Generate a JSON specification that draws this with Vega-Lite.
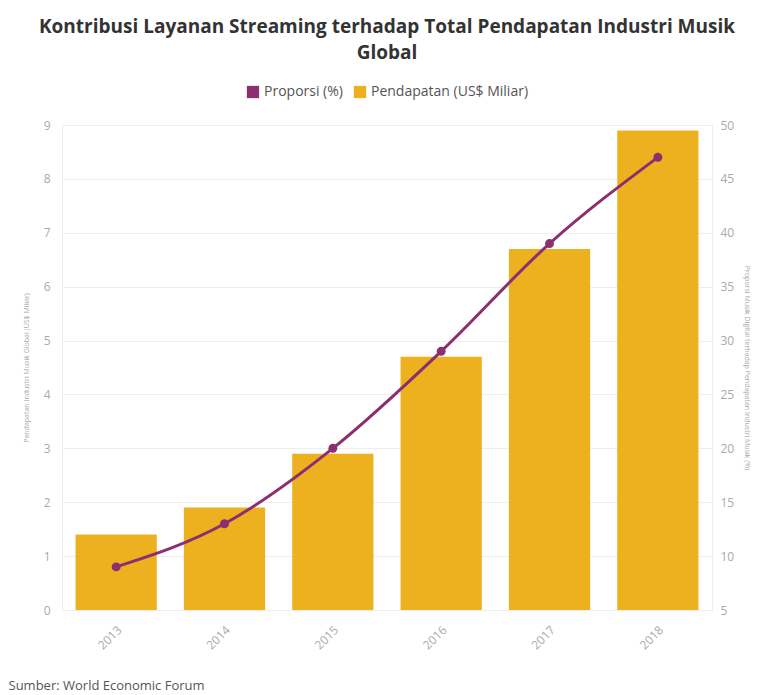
{
  "$schema": "https://vega.github.io/schema/vega-lite/v6.json",
  "width": 650,
  "height": 485,
  "autosize": {"type": "none"},
  "padding": {"left": 62, "top": 125, "right": 55, "bottom": 85},
  "background": "white",
  "title": {
    "text": ["Kontribusi Layanan Streaming terhadap Total Pendapatan Industri Musik", "Global"],
    "anchor": "middle",
    "font": "Open Sans",
    "fontSize": 19,
    "fontWeight": "bold",
    "color": "#333333",
    "lineHeight": 26,
    "offset": 22
  },
  "data": {
    "values": [
      {"tahun": "2013", "pendapatan": 1.4, "proporsi": 9},
      {"tahun": "2014", "pendapatan": 1.9, "proporsi": 13},
      {"tahun": "2015", "pendapatan": 2.9, "proporsi": 20},
      {"tahun": "2016", "pendapatan": 4.7, "proporsi": 29},
      {"tahun": "2017", "pendapatan": 6.7, "proporsi": 39},
      {"tahun": "2018", "pendapatan": 8.9, "proporsi": 47}
    ]
  },
  "encoding": {
    "x": {
      "field": "tahun",
      "type": "nominal",
      "scale": {"paddingInner": 0.25, "paddingOuter": 0.125},
      "axis": {
        "labelAngle": -45,
        "labelColor": "#aaaaaa",
        "labelFontSize": 12,
        "labelFont": "Open Sans",
        "ticks": false,
        "domain": false,
        "labelPadding": 14,
        "title": "Sumber: World Economic Forum",
        "titleAnchor": "start",
        "titleAlign": "left",
        "titleBaseline": "middle",
        "titleX": -54,
        "titleY": 75,
        "titleFont": "Open Sans",
        "titleFontSize": 13,
        "titleFontWeight": "normal",
        "titleColor": "#555555"
      }
    }
  },
  "layer": [
    {
      "mark": {"type": "bar", "color": "#EDB120"},
      "encoding": {
        "y": {
          "field": "pendapatan",
          "type": "quantitative",
          "scale": {"domain": [0, 9], "nice": false},
          "axis": {
            "values": [0, 1, 2, 3, 4, 5, 6, 7, 8, 9],
            "title": "Pendapatan Industri Musik Global (US$ Miliar)",
            "titleFontSize": 7,
            "titleFont": "Open Sans",
            "titleFontWeight": "normal",
            "titleColor": "#aaaaaa",
            "titlePadding": 14,
            "labelColor": "#aaaaaa",
            "labelFontSize": 12,
            "labelFont": "Open Sans",
            "labelPadding": 12,
            "ticks": false,
            "domainColor": "#eeeeee",
            "gridColor": "#eeeeee"
          }
        },
        "color": {
          "datum": "Pendapatan (US$ Miliar)",
          "scale": {"domain": ["Proporsi (%)", "Pendapatan (US$ Miliar)"], "range": ["#8B2F6F", "#EDB120"]},
          "legend": {
            "title": null,
            "orient": "top",
            "direction": "horizontal",
            "symbolType": "square",
            "symbolSize": 150,
            "labelFont": "Open Sans",
            "labelFontSize": 14,
            "labelColor": "#555555",
            "columnPadding": 10,
            "offset": 26
          }
        }
      }
    },
    {
      "mark": {"type": "line", "color": "#8B2F6F", "strokeWidth": 3, "interpolate": "monotone"},
      "encoding": {
        "y": {
          "field": "proporsi",
          "type": "quantitative",
          "scale": {"domain": [5, 50], "nice": false},
          "axis": {
            "orient": "right",
            "values": [5, 10, 15, 20, 25, 30, 35, 40, 45, 50],
            "title": "Proporsi Musik Digital terhadap Pendapatan Industri Musik (%)",
            "titleFontSize": 7,
            "titleFont": "Open Sans",
            "titleFontWeight": "normal",
            "titleColor": "#aaaaaa",
            "titlePadding": 10,
            "labelColor": "#aaaaaa",
            "labelFontSize": 12,
            "labelFont": "Open Sans",
            "labelPadding": 8,
            "ticks": false,
            "grid": false,
            "domainColor": "#eeeeee"
          }
        }
      }
    },
    {
      "mark": {"type": "point", "filled": true, "opacity": 1, "color": "#8B2F6F", "size": 80},
      "encoding": {
        "y": {"field": "proporsi", "type": "quantitative", "scale": {"domain": [5, 50], "nice": false}, "axis": null}
      }
    }
  ],
  "resolve": {"scale": {"y": "independent"}},
  "config": {
    "view": {"stroke": null},
    "legend": {"layout": {"top": {"anchor": "middle"}}}
  }
}
